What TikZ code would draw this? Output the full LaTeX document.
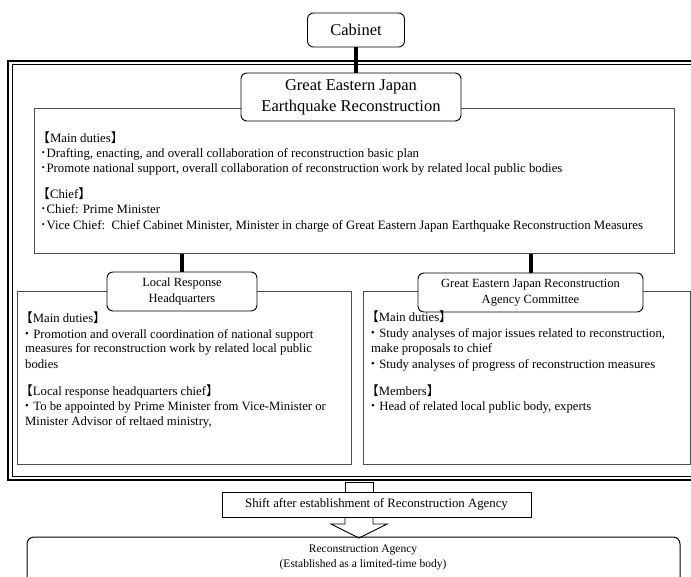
\documentclass[tikz,border=0pt]{standalone}
\usepackage{fontspec}
\setmainfont{Liberation Serif}
\newfontfamily\cjk{Noto Sans CJK JP}
\newcommand\lbr{{\cjk 【}}
\newcommand\rbr{{\cjk 】}}
\newcommand\dotf{{\cjk ・}}
\newcommand\doth{{\cjk ･}}
\begin{document}
\begin{tikzpicture}[x=1pt,y=-1pt,
  hdr/.style={draw=black, line width=0.9pt, rounded corners=6pt, fill=white, align=center, inner sep=0pt},
  bigf/.style={font=\fontsize{16.5}{21}\selectfont},
  midf/.style={font=\fontsize{12.5}{16.5}\selectfont},
  plainbox/.style={draw=black!70, line width=1pt},
  txt/.style={anchor=base west, inner sep=0pt, font=\fontsize{12.8}{14}\selectfont},
  subtxt/.style={anchor=base west, inner sep=0pt, font=\fontsize{12.7}{15}\selectfont},
  smalltxt/.style={anchor=base, inner sep=0pt, font=\fontsize{11.5}{13}\selectfont},
  link/.style={line width=4pt, black},
]
\useasboundingbox (0,0) rectangle (691,576);
\clip (0,0) rectangle (691,576);
% outer double frame
\draw[line width=1.6pt] (8,61) rectangle (720,480);
\draw[line width=0.8pt] (12,64.5) rectangle (720,476.5);
% main box
\node[plainbox, minimum width=640pt, minimum height=145pt, inner sep=0pt] (mainbox) at (354,180.5) {};
% Cabinet and headquarters
\node[hdr, bigf, minimum width=97pt, minimum height=34pt] (cab) at (356,30) {Cabinet};
\node[hdr, bigf, minimum width=220pt, minimum height=48pt] (gej) at (351,97) {Great Eastern Japan\\Earthquake Reconstruction};
\draw[link] (cab.south) -- (cab.south |- gej.north);
% main texts
\node[txt] (m1) at (37,142) {\lbr Main duties\rbr};
\node[txt] (m2) at (40,157) {\doth Drafting, enacting, and overall collaboration of reconstruction basic plan};
\node[txt] (m3) at (40,172) {\doth Promote national support, overall collaboration of reconstruction work by related local public bodies};
\node[txt] (m4) at (37,198) {\lbr Chief\rbr};
\node[txt] (m5) at (40,213) {\doth Chief: Prime Minister};
\node[txt] (m6) at (40,229) {\doth Vice Chief:\ \ Chief Cabinet Minister, Minister in charge of Great Eastern Japan Earthquake Reconstruction Measures};
% sub boxes
\node[plainbox, minimum width=334pt, minimum height=173pt, inner sep=0pt] (lbox) at (184,377.5) {};
\node[plainbox, minimum width=327pt, minimum height=173pt, inner sep=0pt] (rbox) at (526.5,377.5) {};
\node[hdr, midf, minimum width=150pt, minimum height=39pt] (lrh) at (182,291.5) {Local Response\\Headquarters};
\node[hdr, midf, minimum width=225pt, minimum height=39pt] (com) at (530.5,292.5) {Great Eastern Japan Reconstruction\\Agency Committee};
\draw[link] (lrh.north |- mainbox.south) -- (lrh.north);
\draw[link] (com.north |- mainbox.south) -- (com.north);
% left texts
\node[subtxt] (l1) at (20,322) {\lbr Main duties\rbr};
\node[subtxt] (l2) at (20.5,338) {\dotf Promotion and overall coordination of national support};
\node[subtxt] (l3) at (25,352.5) {measures for reconstruction work by related local public};
\node[subtxt] (l4) at (25,368) {bodies};
\node[subtxt] (l5) at (20,395) {\lbr Local response headquarters chief\rbr};
\node[subtxt] (l6) at (20.5,410) {\dotf To be appointed by Prime Minister from Vice-Minister or};
\node[subtxt] (l7) at (25,425) {Minister Advisor of reltaed ministry,};
% right texts
\node[subtxt] (r1) at (366,321) {\lbr Main duties\rbr};
\node[subtxt] (r2) at (366.5,337) {\dotf Study analyses of major issues related to reconstruction,};
\node[subtxt] (r3) at (371,352) {make proposals to chief};
\node[subtxt] (r4) at (366.5,368) {\dotf Study analyses of progress of reconstruction measures};
\node[subtxt] (r5) at (366,395) {\lbr Members\rbr};
\node[subtxt] (r6) at (366.5,410) {\dotf Head of related local public body, experts};
% hollow arrow
\draw[line width=0.9pt] (345,493) -- (345,482) -- (373,482) -- (373,493);
\draw[line width=0.9pt, line join=miter] (345,516) -- (345,524) -- (331,524) -- (359,538) -- (387,524) -- (373,524) -- (373,516);
\node[draw=black, line width=0.9pt, fill=white, minimum width=309pt, minimum height=25pt, inner sep=0pt, font=\fontsize{12.8}{14}\selectfont] (shift) at (376.5,504.5) {Shift after establishment of Reconstruction Agency};
% reconstruction agency
\draw[line width=1pt, rounded corners=7pt] (27,537) rectangle (680,620);
\node[smalltxt] (ra1) at (363,552) {Reconstruction Agency};
\node[smalltxt] (ra2) at (363,567) {(Established as a limited-time body)};
\end{tikzpicture}
\end{document}
